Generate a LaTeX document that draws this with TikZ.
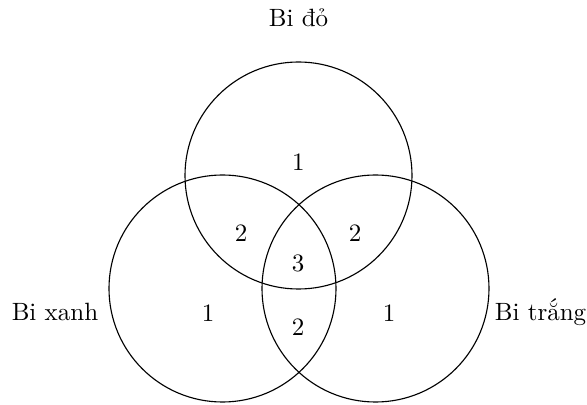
\documentclass[tikz,border=0pt]{standalone}
\begin{document}
\begin{tikzpicture}[x=0.4pt,y=-0.4pt,
  setcircle/.style={draw=black,line width=0.45pt,circle,minimum size=90.8pt,inner sep=0pt},
  numlabel/.style={inner sep=0pt,font=\fontsize{10}{12}\selectfont},
  setname/.style={inner sep=0pt,anchor=base,font=\fontsize{10}{12}\selectfont}]
\useasboundingbox (0,0) rectangle (587,405);
\node[setcircle] (do) at (298.5,175.5) {};
\node[setcircle] (xanh) at (222.5,288.5) {};
\node[setcircle] (trang) at (375.5,288.5) {};
\node[setname] (ldo) at (298.5,27) {Bi đỏ};
\node[setname] (lxanh) at (55,320.5) {Bi xanh};
\node[setname] (ltrang) at (540.5,320.5) {Bi trắng};
\node[numlabel] (n1) at (298.3,161.7) {1};
\node[numlabel] (n2) at (241,233) {2};
\node[numlabel] (n3) at (355,233) {2};
\node[numlabel] (n4) at (298,263.5) {3};
\node[numlabel] (n5) at (298,327) {2};
\node[numlabel] (n6) at (208,313) {1};
\node[numlabel] (n7) at (389,313) {1};
\end{tikzpicture}
\end{document}
